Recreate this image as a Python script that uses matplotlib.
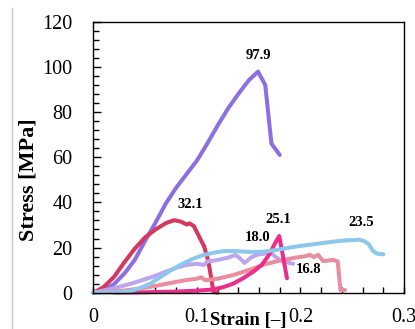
import matplotlib
matplotlib.use("Agg")
import matplotlib.pyplot as plt
from matplotlib.lines import Line2D
from matplotlib.ticker import MultipleLocator

plt.rcParams['font.family'] = ['Liberation Serif', 'DejaVu Serif']

# stress-strain curves, strain [-] / stress [MPa]
purple_strain = [0, 0.01, 0.02, 0.03, 0.04, 0.05, 0.06, 0.07, 0.08, 0.09, 0.10,
                 0.11, 0.12, 0.13, 0.14, 0.15, 0.159, 0.166, 0.172, 0.180]
purple_stress = [0, 1.2, 3.8, 8.5, 14.5, 23, 31, 39.5, 46.5, 52.5, 58.5,
                 66, 74, 81.5, 88, 94, 97.9, 92, 66, 61]

red_strain = [0, 0.01, 0.02, 0.03, 0.04, 0.05, 0.06, 0.07, 0.078, 0.085, 0.09,
              0.093, 0.097, 0.102, 0.107, 0.111, 0.114, 0.116, 0.12]
red_stress = [0, 2.5, 7, 13.5, 19.5, 24.5, 28, 30.8, 32.1, 31.4, 30.2,
              30.7, 29.5, 25, 20.5, 14, 6, 0.3, 0]

lavender_strain = [0, 0.01, 0.02, 0.03, 0.04, 0.05, 0.06, 0.07, 0.08, 0.09, 0.10,
                   0.107, 0.11, 0.12, 0.13, 0.137, 0.141, 0.146, 0.152, 0.158,
                   0.165, 0.171, 0.176, 0.183, 0.193]
lavender_stress = [0, 1, 2, 3.2, 4.5, 6, 7.5, 9.3, 11, 12.3, 12.8,
                   12.3, 13.8, 14.5, 15.5, 16.7, 15.5, 13.2, 15.5, 16.8,
                   17.3, 18.0, 15.8, 13.8, 12.8]

salmon_strain = [0, 0.02, 0.04, 0.06, 0.08, 0.09, 0.1, 0.104, 0.108, 0.12, 0.135,
                 0.15, 0.165, 0.18, 0.195, 0.205, 0.209, 0.213, 0.217, 0.222,
                 0.232, 0.236, 0.2386, 0.243]
salmon_stress = [0, 0.5, 1.5, 3, 4.8, 5.6, 6.2, 6.8, 5.5, 6.2, 7.8,
                 10, 12.5, 14.2, 15.5, 16.2, 16.8, 15.8, 16.8, 14,
                 14.5, 13.8, 1.2, 1.2]

magenta_strain = [0.02, 0.05, 0.08, 0.10, 0.115, 0.125, 0.135, 0.145, 0.155,
                  0.163, 0.17, 0.175, 0.1795, 0.183, 0.187]
magenta_stress = [0, 0.2, 0.5, 0.9, 1.4, 2.4, 4.0, 6.5, 9.5,
                  12.5, 17, 21.5, 25.1, 16.5, 6.4]

blue_strain = [0, 0.02, 0.035, 0.045, 0.055, 0.065, 0.075, 0.085, 0.095, 0.105,
               0.115, 0.125, 0.135, 0.145, 0.155, 0.165, 0.175, 0.185, 0.195,
               0.205, 0.215, 0.225, 0.235, 0.245, 0.252, 0.256, 0.261, 0.266,
               0.270, 0.274, 0.28]
blue_stress = [0, 0.1, 0.7, 2, 4, 7, 10, 12.5, 14.8, 16.5,
               17.6, 18.4, 18.5, 18.2, 18.0, 18.2, 18.8, 19.6, 20.4,
               21.0, 21.6, 22.2, 22.8, 23.2, 23.3, 23.5, 23.0, 21.5,
               18.5, 17.3, 17.0]

# peak value labels
peak_labels = ['97.9', '32.1', '25.1', '18.0', '23.5', '16.8']
label_x = [0.159, 0.0935, 0.179, 0.1585, 0.259, 0.2075]
label_y = [105, 39.2, 32.5, 24.3, 31, 10.4]

fig = plt.figure(figsize=(4.15, 3.29), dpi=100)
ax = fig.add_axes([0.2249, 0.1103, 0.7486, 0.8237])

curves = [
    (purple_strain, purple_stress, '#8B6FE3'),
    (red_strain, red_stress, '#D6375F'),
    (lavender_strain, lavender_stress, '#BEA5F0'),
    (salmon_strain, salmon_stress, '#EB8CA0'),
    (magenta_strain, magenta_stress, '#EB2D8C'),
    (blue_strain, blue_stress, '#8CC8EB'),
]
for xs, ys, c in curves:
    ax.plot(xs, ys, color=c, lw=2.9, solid_capstyle='round',
            solid_joinstyle='round', clip_on=False)

for txt, x, y in zip(peak_labels, label_x, label_y):
    ax.text(x, y, txt, fontsize=10.5, fontweight='bold', ha='center', va='center')

ax.set_xlim(0, 0.3)
ax.set_ylim(0, 120)
ax.xaxis.set_major_locator(MultipleLocator(0.1))
ax.xaxis.set_minor_locator(MultipleLocator(0.02))
ax.yaxis.set_major_locator(MultipleLocator(20))
ax.yaxis.set_minor_locator(MultipleLocator(4))
ax.xaxis.set_major_formatter(plt.FuncFormatter(lambda v, p: '%g' % round(v, 2)))

ax.tick_params(axis='y', which='major', direction='in', length=6, width=1,
               labelsize=14.5, pad=15)
ax.tick_params(axis='y', which='minor', direction='in', length=4, width=1)
ax.tick_params(axis='x', which='both', direction='in', length=4, width=1,
               labelsize=14.5, pad=11)
for s in ax.spines.values():
    s.set_linewidth(1)

ax.set_xlabel('Strain [–]', fontsize=13.5, fontweight='bold')
ax.xaxis.set_label_coords(0.5, -0.07)
ax.set_ylabel('Stress [MPa]', fontsize=16, fontweight='bold')
ax.yaxis.set_label_coords(-0.178, 0.416)

# thin grey rule at the left edge
fig.add_artist(Line2D([12 / 415, 12 / 415], [0, 1 - 8 / 329],
                      transform=fig.transFigure, color='#C8C8C8', lw=1))

fig.savefig('out.png', dpi=100)
